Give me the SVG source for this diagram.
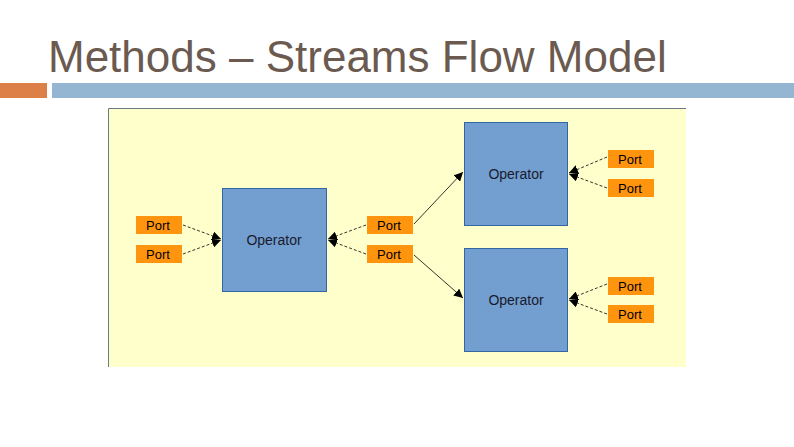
<svg xmlns="http://www.w3.org/2000/svg" width="794" height="447" viewBox="0 0 794 447">
<style>
.op{fill:#729fcf;stroke:#3465a4;stroke-width:1}
.pt{fill:#ff950e}
.t{font-family:"Liberation Sans",Arial,sans-serif;font-size:13px;fill:#000}
.ot{font-family:"Liberation Sans",Arial,sans-serif;font-size:14px;fill:#1a1a2e;text-anchor:middle}
.c{stroke:#000;stroke-width:0.8;fill:none;marker-end:url(#ah)}
.d{stroke-dasharray:3,2}
</style>
<defs><marker id="ah" viewBox="0 0 10 10" refX="10" refY="5" markerWidth="9" markerHeight="9" markerUnits="userSpaceOnUse" orient="auto"><path d="M0,0L10,5L0,10z" fill="#000"/></marker></defs>
<rect width="794" height="447" fill="#fff"/>
<text x="48" y="72" font-family="Liberation Sans,Arial,sans-serif" font-size="44" fill="#6b5a50">Methods – Streams Flow Model</text>
<rect x="0" y="83" width="47" height="15" fill="#dd8047"/>
<rect x="52" y="83" width="742" height="15" fill="#94b6d2"/>
<rect x="108" y="108" width="578" height="259" fill="#ffffcc"/>
<path d="M108.5,367V108.5H686" stroke="#6a7a80" stroke-width="1" fill="none"/>
<g id="op1"><rect class="op" x="222.5" y="188.5" width="104" height="103"/><text class="ot" x="274" y="245">Operator</text></g>
<g id="op2"><rect class="op" x="464.5" y="122.5" width="103" height="103"/><text class="ot" x="516" y="179">Operator</text></g>
<g id="op3"><rect class="op" x="464.5" y="248.5" width="103" height="103"/><text class="ot" x="516" y="305">Operator</text></g>
<g id="p1"><rect class="pt" x="136" y="216" width="46" height="18"/><text class="t" x="146" y="230">Port</text></g>
<g id="p2"><rect class="pt" x="136" y="245" width="46" height="18"/><text class="t" x="146" y="259">Port</text></g>
<g id="p3"><rect class="pt" x="367" y="216" width="46" height="18"/><text class="t" x="377" y="230">Port</text></g>
<g id="p4"><rect class="pt" x="367" y="245" width="46" height="18"/><text class="t" x="377" y="259">Port</text></g>
<g id="p5"><rect class="pt" x="608" y="150" width="46" height="18"/><text class="t" x="618" y="164">Port</text></g>
<g id="p6"><rect class="pt" x="608" y="179" width="46" height="18"/><text class="t" x="618" y="193">Port</text></g>
<g id="p7"><rect class="pt" x="608" y="277" width="46" height="18"/><text class="t" x="618" y="291">Port</text></g>
<g id="p8"><rect class="pt" x="608" y="305" width="46" height="18"/><text class="t" x="618" y="319">Port</text></g>
<g id="connectors">
<path class="c d" d="M183,225L221,239"/>
<path class="c d" d="M183,254L221,240"/>
<path class="c d" d="M366,225L328,239"/>
<path class="c d" d="M366,254L328,240"/>
<path class="c" d="M414,224L463,172"/>
<path class="c" d="M414,255L463,298"/>
<path class="c d" d="M607,157L569,173"/>
<path class="c d" d="M607,188L569,174"/>
<path class="c d" d="M607,284L569,299"/>
<path class="c d" d="M607,314L569,300"/>
</g>
</svg>
